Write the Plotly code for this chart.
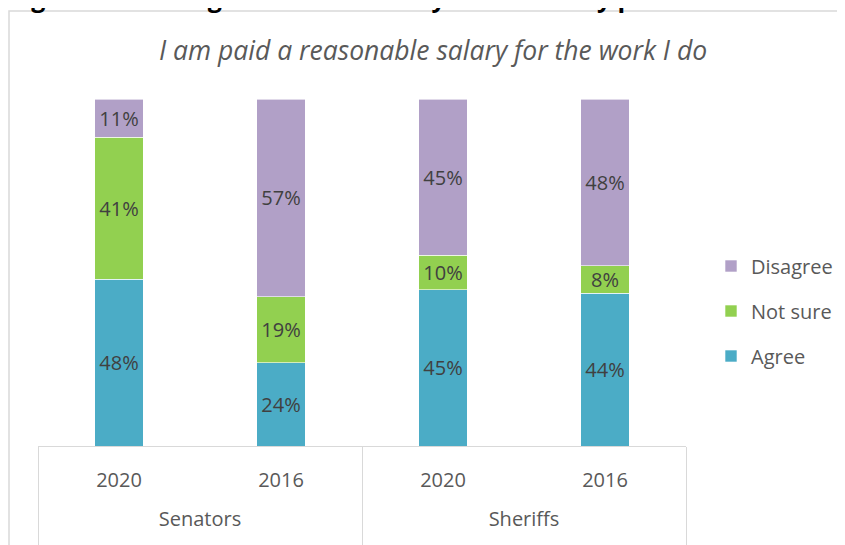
import plotly.graph_objects as go

groups = ["Senators", "Senators", "Sheriffs", "Sheriffs"]
years = ["2020", "2016", "2020", "2016"]
agree = [48, 24, 45, 44]
not_sure = [41, 19, 10, 8]
disagree = [11, 57, 45, 48]

series = [
    ("Agree", agree, "#4BACC6", 3),
    ("Not sure", not_sure, "#92D050", 2),
    ("Disagree", disagree, "#B1A0C7", 1),
]

FONT = "Open Sans"
OFF = 8  # page offset of the plot div (body margin)

# blank lines around the group names push them down and lengthen the dividers
group_labels = ["<br>" + g + "<br>\u00a0" for g in groups]

fig = go.Figure()
for name, vals, color, rank in series:
    fig.add_trace(go.Bar(
        x=[group_labels, years], y=vals, name=name, legendgroup=name, legendrank=rank,
        marker=dict(color=color, line=dict(color="rgba(255,255,255,0.6)", width=1)),
        width=0.3,
        texttemplate="%{y}%", textposition="inside", insidetextanchor="middle",
        textfont=dict(family=FONT, size=20, color="#404040"),
        constraintext="none", hoverinfo="skip",
    ))

# page-pixel layout targets
L, R, T, B = 38, 686, 99, 446
W, H = 845, 545 - OFF
pw, ph = R - L, B - T

def px(x):
    return (x - L) / pw

def py(y):
    return (B - y) / ph

fig.update_layout(
    width=W, height=H,
    margin=dict(l=L - OFF, r=W - (R - OFF), t=T - OFF, b=H - (B - OFF), pad=0,
                autoexpand=False),
    barmode="stack", bargap=0.7,
    paper_bgcolor="white", plot_bgcolor="white",
    font=dict(family=FONT, color="#595959", size=20),
    showlegend=True,
    legend=dict(
        x=px(711), xanchor="left", y=py(311), yanchor="middle",
        traceorder="grouped", tracegroupgap=16,
        font=dict(family=FONT, size=20, color="#595959"),
        bgcolor="rgba(0,0,0,0)", itemclick=False,
    ),
    xaxis=dict(
        type="multicategory", showline=True, linecolor="#D9D9D9", linewidth=1,
        showdividers=True, dividercolor="#D9D9D9", dividerwidth=1,
        tickfont=dict(family=FONT, size=20, color="#595959"),
        ticklabelstandoff=16, automargin=False,
        showgrid=False, ticks="", fixedrange=True,
    ),
    yaxis=dict(range=[0, 100], visible=False, fixedrange=True, automargin=False),
    shapes=[dict(
        type="rect", xref="paper", yref="paper",
        x0=px(9), x1=px(900), y0=py(600), y1=py(11),
        line=dict(color="#D9D9D9", width=1.5), fillcolor="rgba(0,0,0,0)", layer="below",
    )],
    annotations=[
        dict(text="I am paid a reasonable salary for the work I do",
             xref="paper", yref="paper", x=px(433), y=py(50),
             xanchor="center", yanchor="middle", showarrow=False,
             font=dict(family=FONT, size=26.5, color="#595959", style="italic")),
        dict(text="<b>Figure 3.6: Change in view of salary 2016-2020 by post</b>",
             xref="paper", yref="paper", x=px(OFF), y=py(OFF + 8),
             xanchor="left", yanchor="bottom", showarrow=False,
             font=dict(family=FONT, size=25, color="#000000")),
    ],
)

fig.write_html("out.html")
